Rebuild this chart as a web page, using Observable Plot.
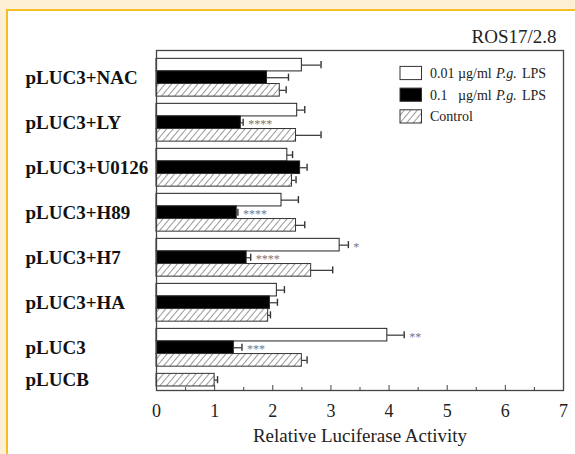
<!DOCTYPE html>
<html><head><meta charset="utf-8">
<script src="https://cdn.jsdelivr.net/npm/d3@7"></script>
<script src="https://cdn.jsdelivr.net/npm/@observablehq/plot@0.6"></script>
<style>
html,body{margin:0;padding:0;width:575px;height:454px;overflow:hidden;background:#FCEFD4;}
#panel{position:absolute;left:6px;top:9px;width:620px;height:520px;background:#fff;border-left:2.5px solid #F4BF24;border-top:2.5px solid #F4BF24;}
#chart{position:absolute;left:0;top:0;}
</style></head><body><div id="panel"></div><div id="chart"></div>
<script>
// ---- data ----
const groups = ["pLUC3+NAC","pLUC3+LY","pLUC3+U0126","pLUC3+H89","pLUC3+H7","pLUC3+HA","pLUC3","pLUCB"];
const seriesNames = ["0.01 µg/ml P.g. LPS","0.1 µg/ml P.g. LPS","Control"];
const lowLPS     = [2.50, 2.42, 2.25, 2.15, 3.15, 2.07, 3.97, null];
const lowLPSErr  = [0.33, 0.13, 0.09, 0.29, 0.15, 0.13, 0.29, null];
const highLPS    = [1.90, 1.45, 2.47, 1.38, 1.55, 1.95, 1.33, null];
const highLPSErr = [0.37, 0.04, 0.12, 0.02, 0.07, 0.13, 0.14, null];
const control    = [2.12, 2.40, 2.33, 2.40, 2.66, 1.92, 2.50, 1.00];
const controlErr = [0.11, 0.43, 0.07, 0.15, 0.37, 0.04, 0.09, 0.05];
const lowSig     = ["", "", "", "", "*", "", "**", ""];
const highSig    = ["", "****", "", "****", "****", "", "***", ""];
const ctrlSig    = ["", "", "", "", "", "", "", ""];
const xTicks = [0, 1, 2, 3, 4, 5, 6, 7];
const xMinorTicks = [0.5, 1.5, 2.5, 3.5, 4.5, 5.5, 6.5];
const title = "ROS17/2.8";
const xLabel = "Relative Luciferase Activity";

// ---- layout: each bar one unit, group gap in units ----
const GAP = 0.571;
const STEP = 3 + GAP;
const seriesVals = [lowLPS, highLPS, control];
const seriesErrs = [lowLPSErr, highLPSErr, controlErr];
const seriesSigs = [lowSig, highSig, ctrlSig];
const fills = ["#ffffff", "#000000", "url(#hatch)"];
const rows = [];
groups.forEach((g, gi) => {
  let k = 0;
  seriesVals.forEach((vals, si) => {
    if (vals[gi] == null) return;
    rows.push({group: g, series: si, value: vals[gi], err: seriesErrs[si][gi], sig: seriesSigs[si][gi], pos: gi * STEP + k});
    k++;
  });
});
const labels = groups.map(g => {
  const r = rows.filter(d => d.group === g);
  return {group: g, y: d3.mean(r, d => d.pos + 0.5)};
});
const lastPos = d3.max(rows, d => d.pos + 1);

const serif = "'Liberation Serif', 'Times New Roman', serif";

function legendMark(index, scales, values, dims) {
  const g = d3.create("svg:g").attr("text-anchor", "start");
  const defs = g.append("defs");
  const p = defs.append("pattern").attr("id", "hatch").attr("patternUnits", "userSpaceOnUse")
    .attr("width", 5).attr("height", 5).attr("patternTransform", "rotate(40)");
  p.append("rect").attr("width", 5).attr("height", 5).attr("fill", "#fff");
  p.append("line").attr("x1", 0).attr("y1", 0).attr("x2", 0).attr("y2", 5).attr("stroke", "#333").attr("stroke-width", 1);
  const x0 = dims.width - dims.marginRight - 163;
  const y0 = dims.marginTop + 23;
  const numbers = ["0.01", "0.1"];
  const addText = (x, y, str, italic) => g.append("text").attr("x", x).attr("y", y).attr("dy", "0.35em")
    .attr("font-size", 14).attr("font-family", serif).attr("fill", "#222").attr("text-anchor", "start")
    .attr("font-style", italic ? "italic" : "normal").text(str);
  seriesNames.forEach((name, i) => {
    const cy = y0 + i * 21.7;
    g.append("rect").attr("x", x0).attr("y", cy - 6.6).attr("width", 21.5).attr("height", 13.2)
      .attr("fill", fills[i]).attr("stroke", "#333").attr("stroke-width", 1);
    if (i < 2) {
      addText(x0 + 30, cy, numbers[i]);
      addText(x0 + 58, cy, "µg/ml");
      addText(x0 + 96, cy, "P.g.", true);
      addText(x0 + 122, cy, "LPS");
    } else {
      addText(x0 + 30, cy, name);
    }
  });
  return g.node();
}

const chart = Plot.plot({
  width: 575,
  height: 454,
  marginLeft: 156,
  marginRight: 12,
  marginTop: 50,
  marginBottom: 64,
  style: {background: "transparent", fontFamily: serif, color: "#222"},
  x: {domain: [0, 7], label: null},
  y: {domain: [-0.66, lastPos + 0.32], reverse: true, axis: null},
  marks: [
    legendMark,
    Plot.rectX(rows.filter(d => d.series === 0), {x1: 0, x2: "value", y1: "pos", y2: d => d.pos + 1, fill: fills[0], stroke: "#222", strokeWidth: 1}),
    Plot.rectX(rows.filter(d => d.series === 1), {x1: 0, x2: "value", y1: "pos", y2: d => d.pos + 1, fill: fills[1], stroke: "#222", strokeWidth: 1}),
    Plot.rectX(rows.filter(d => d.series === 2), {x1: 0, x2: "value", y1: "pos", y2: d => d.pos + 1, fill: fills[2], stroke: "#333", strokeWidth: 1}),
    Plot.ruleY(rows, {x1: "value", x2: d => d.value + d.err, y: d => d.pos + 0.5, stroke: "#333", strokeWidth: 1.2}),
    Plot.ruleX(rows, {x: d => d.value + d.err, y1: d => d.pos + 0.22, y2: d => d.pos + 0.78, stroke: "#333", strokeWidth: 1.4}),
    Plot.text(rows.filter(d => d.sig), {x: d => d.value + d.err, y: d => d.pos + 0.62, text: "sig", textAnchor: "start", dx: 5, fill: "#777", fontSize: 12}),
    Plot.frame({stroke: "#444", strokeWidth: 1.3}),
    Plot.axisX({ticks: xTicks, tickSize: -5, tickFormat: () => "", stroke: "#444", label: null}),
    Plot.axisX({ticks: xMinorTicks, tickSize: -3, tickFormat: () => "", stroke: "#444", label: null}),
    Plot.axisX({ticks: xTicks, tickSize: 0, tickPadding: 14, tickFormat: d3.format("d"), fontSize: 18, fill: "#222", label: null}),
    Plot.text(labels, {y: "y", text: "group", frameAnchor: "left", dx: -131, textAnchor: "start", fontSize: 19, fontWeight: "bold", fill: "#111"}),
    Plot.text([xLabel], {text: d => d, frameAnchor: "bottom", lineAnchor: "middle", dy: 45, fontSize: 19, fill: "#222"}),
    Plot.text([title], {text: d => d, frameAnchor: "top-right", lineAnchor: "middle", dx: -7, dy: -14, textAnchor: "end", fontSize: 19, fill: "#222"})
  ]
});
document.getElementById("chart").appendChild(chart);
</script>
</body></html>
